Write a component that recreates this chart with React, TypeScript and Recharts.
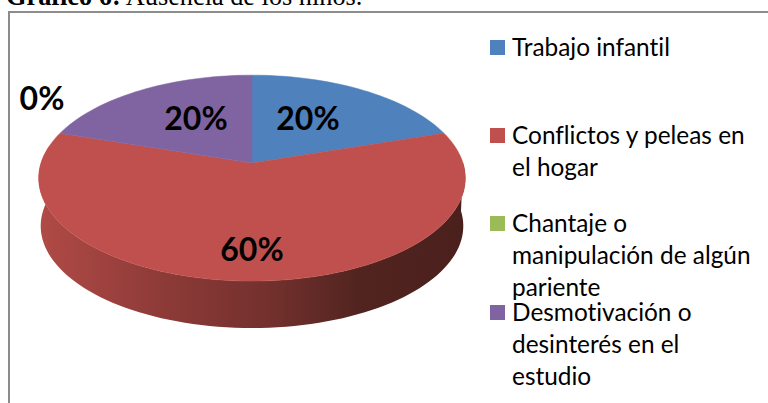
import React from 'react';
import { PieChart, Pie, Legend } from 'recharts';

const categories = [
  'Trabajo infantil',
  'Conflictos y peleas en el hogar',
  'Chantaje o manipulación de algún pariente',
  'Desmotivación o desinterés en el estudio',
];
const values = [20, 60, 0, 20];
const colors = ['#4F81BD', '#C0504D', '#9BBB59', '#8064A2'];

const legendLines = [
  ['Trabajo infantil'],
  ['Conflictos y peleas en', 'el hogar'],
  ['Chantaje o', 'manipulación de algún', 'pariente'],
  ['Desmotivación o', 'desinterés en el', 'estudio'],
];

const WIDTH = 768;
const HEIGHT = 403;
const CX = 252;
const CY = 163;
const RADIUS = 211;
const SQUASH = 0.4775; // how flat the disc is seen
const TILT = 0.147; // perspective, front of the disc is closer
const DEPTH = 48;
const RAD = Math.PI / 180;

// where Excel left the data labels
const labelSpots = [
  { x: 308, y: 117 },
  { x: 252, y: 248 },
  { x: 42, y: 97 },
  { x: 196, y: 117 },
];
const legendRows = [47, 135, 223, 312];

const project = (cx: number, cy: number, r: number, angle: number) => {
  const u = Math.cos(angle * RAD);
  const v = -Math.sin(angle * RAD);
  const w = 1 - TILT * v;
  return { x: cx + (r * u) / w, y: cy + (r * SQUASH * v) / w };
};

const rim = (cx: number, cy: number, r: number, from: number, to: number) => {
  const steps = Math.max(2, Math.ceil(Math.abs(to - from) / 2));
  const pts = [];
  for (let i = 0; i <= steps; i++) {
    pts.push(project(cx, cy, r, from + ((to - from) * i) / steps));
  }
  return pts;
};

const toPath = (pts: { x: number; y: number }[]) =>
  pts.map((p, i) => `${i ? 'L' : 'M'}${p.x.toFixed(2)} ${p.y.toFixed(2)}`).join(' ');

const TopSlice = (props: any) => {
  const { cx, cy, outerRadius, startAngle, endAngle, fill } = props;
  if (startAngle === endAngle) return null;
  const d = `M${cx} ${cy} ${toPath(rim(cx, cy, outerRadius, startAngle, endAngle)).replace('M', 'L')} Z`;
  return <path d={d} fill={fill} stroke={fill} strokeWidth={0.5} />;
};

// the visible wall is only the front half of the rim (angles -180 to 0)
const WallSlice = (props: any) => {
  const { cx, cy, outerRadius, startAngle, endAngle } = props;
  const hi = Math.min(startAngle, 0);
  const lo = Math.max(endAngle, -190);
  if (hi <= lo) return null;
  const top = rim(cx, cy, outerRadius, hi, lo);
  const bottom = rim(cx, cy + DEPTH, outerRadius - 2, lo, hi);
  return <path d={`${toPath(top)} ${toPath(bottom).replace('M', 'L')} Z`} fill="url(#wall)" />;
};

const renderLabel = (props: any) => {
  const spot = labelSpots[props.index];
  return (
    <text
      x={spot.x}
      y={spot.y}
      textAnchor="middle"
      dominantBaseline="central"
      fontFamily="Lato"
      fontWeight={700}
      fontSize={32}
      fill="#000"
    >
      {`${Math.round(props.percent * 100)}%`}
    </text>
  );
};

const LegendBlock = () => (
  <div style={{ position: 'absolute', left: 0, top: 0 }}>
    {categories.map((name, i) => (
      <div key={name}>
        <div
          style={{
            position: 'absolute',
            left: 490,
            top: legendRows[i] - 7,
            width: 15,
            height: 15,
            background: colors[i],
          }}
        />
        {legendLines[i].map((line, j) => (
          <div
            key={line}
            style={{
              position: 'absolute',
              left: 512,
              top: legendRows[i] + j * 32 - 16,
              lineHeight: '32px',
              fontFamily: 'Lato',
              fontSize: 24.4,
              fontVariantLigatures: 'none',
              color: '#000',
              whiteSpace: 'nowrap',
            }}
          >
            {line}
          </div>
        ))}
      </div>
    ))}
  </div>
);

const chartData = categories.map((name, i) => ({ name, value: values[i], fill: colors[i] }));

export default function App() {
  return (
    <div style={{ position: 'absolute', left: 0, top: 0, width: WIDTH, height: HEIGHT, overflow: 'hidden', background: '#fff' }}>
      <div
        style={{
          position: 'absolute',
          left: 6,
          top: -18,
          lineHeight: '30px',
          fontFamily: 'Liberation Serif',
          fontSize: 26.3,
          color: '#000',
          whiteSpace: 'nowrap',
        }}
      >
        <b>Gráfico 6:</b> Ausencia de los niños.
      </div>
      <div
        style={{
          position: 'absolute',
          left: 8,
          top: 11,
          width: WIDTH,
          height: HEIGHT,
          border: '2px solid #8C8C8C',
        }}
      />
      <div style={{ position: 'absolute', left: 0, top: 0 }}>
        <PieChart width={WIDTH} height={HEIGHT} margin={{ top: 0, right: 0, bottom: 0, left: 0 }}>
          <defs>
            <linearGradient id="wall" gradientUnits="userSpaceOnUse" x1={40} y1={0} x2={465} y2={0}>
              <stop offset="0%" stopColor="#B04A46" />
              <stop offset="30%" stopColor="#8C3A37" />
              <stop offset="55%" stopColor="#72302D" />
              <stop offset="75%" stopColor="#52241F" />
              <stop offset="100%" stopColor="#4A201D" />
            </linearGradient>
          </defs>
          <Pie
            data={chartData}
            dataKey="value"
            nameKey="name"
            cx={CX}
            cy={CY}
            outerRadius={RADIUS}
            startAngle={90}
            endAngle={-270}
            stroke="none"
            shape={WallSlice}
            legendType="none"
            isAnimationActive={false}
          />
          <Pie
            data={chartData}
            dataKey="value"
            nameKey="name"
            cx={CX}
            cy={CY}
            outerRadius={RADIUS}
            startAngle={90}
            endAngle={-270}
            stroke="none"
            shape={TopSlice}
            label={renderLabel}
            labelLine={false}
            isAnimationActive={false}
          />
          <Legend content={LegendBlock} wrapperStyle={{ position: 'absolute', left: 0, top: 0, width: 0, height: 0 }} />
        </PieChart>
      </div>
    </div>
  );
}
